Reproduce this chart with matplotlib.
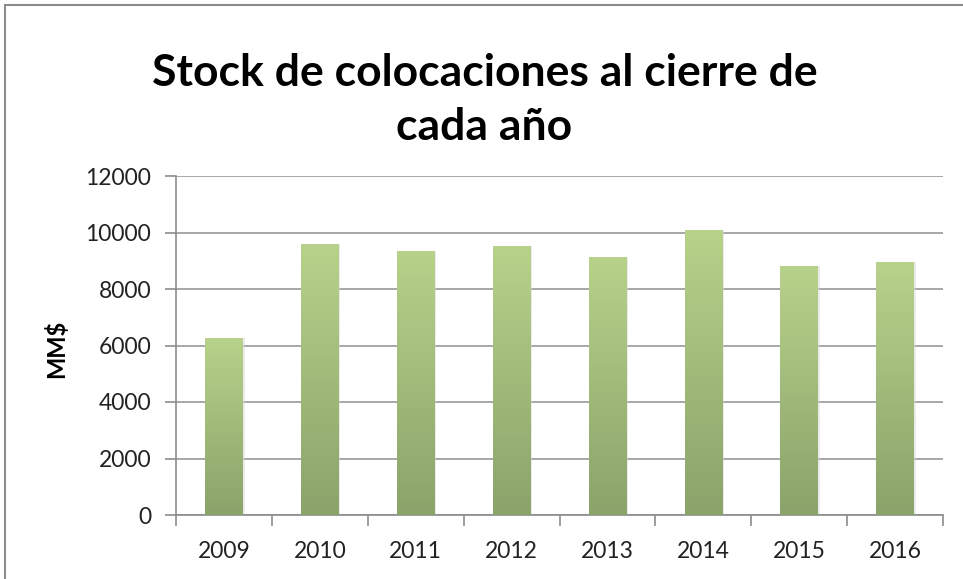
import matplotlib.pyplot as plt
import numpy as np
from matplotlib.colors import LinearSegmentedColormap
from matplotlib.patches import Rectangle

anios = ['2009', '2010', '2011', '2012', '2013', '2014', '2015', '2016']
stock = [6270, 9580, 9350, 9530, 9120, 10080, 8800, 8950]

titulo = 'Stock de colocaciones al cierre de\ncada año'
etiqueta_y = 'MM$'

plt.rcParams['font.family'] = ['Lato', 'DejaVu Sans']

fig = plt.figure(figsize=(9.63, 5.79), dpi=100)
fig.patch.set_facecolor('white')
# marco gris del gráfico
fig.add_artist(Rectangle((5 / 963, -0.01), 1.1, 1 - 5 / 579 + 0.01, transform=fig.transFigure,
                         fill=False, edgecolor='#8c8c8c', linewidth=1.5))

ax = fig.add_axes([176 / 963, 1 - 515 / 579, (943 - 176) / 963, (515 - 176) / 579])

x = np.arange(len(anios))
barras = ax.bar(x, stock, width=0.39, color='none', zorder=3)

degradado = LinearSegmentedColormap.from_list('verde', ['#8aa36a', '#b8d28b'])
grad = np.linspace(0, 1, 256).reshape(-1, 1)
for b in barras:
    x0, w, h = b.get_x(), b.get_width(), b.get_height()
    # sombra suave
    ax.add_patch(Rectangle((x0 + 0.02, 0), w, h, facecolor='#d8d8d8', alpha=0.5,
                           edgecolor='none', zorder=2))
    im = ax.imshow(grad, cmap=degradado, origin='lower', aspect='auto',
                   extent=(x0, x0 + w, 0, h), zorder=3)
    im.set_clip_path(b)

ax.set_xlim(-0.5, len(anios) - 0.5)
ax.set_ylim(0, 12000)
ax.set_yticks(np.arange(0, 12001, 2000))
ax.set_xticks(x)
ax.set_xticklabels(anios)
ax.set_xticks(np.arange(-0.5, len(anios), 1), minor=True)
ax.tick_params(axis='x', which='major', length=0, pad=19, labelsize=16.5, labelcolor='#222222')
ax.tick_params(axis='x', which='minor', length=8, color='#8c8c8c', width=1.2)
ax.tick_params(axis='y', length=8, color='#8c8c8c', width=1.2, labelsize=16.5, pad=10,
               labelcolor='#222222')

ax.grid(axis='y', color='#a0a0a0', linewidth=1.3, zorder=0)
ax.set_axisbelow(True)
for lado in ['top', 'right']:
    ax.spines[lado].set_visible(False)
ax.spines['left'].set_color('#8c8c8c')
ax.spines['bottom'].set_color('#8c8c8c')
ax.spines['left'].set_linewidth(1.2)
ax.spines['bottom'].set_linewidth(1.2)

ax.set_ylabel(etiqueta_y, fontsize=17, fontweight='bold', labelpad=14)
ax.yaxis.set_label_coords(-0.14, 0.49)
fig.text(0.503, 1 - 100 / 579, titulo, ha='center', va='center', fontsize=32,
         fontweight='bold', linespacing=1.4)

fig.savefig('out.png', dpi=100)
